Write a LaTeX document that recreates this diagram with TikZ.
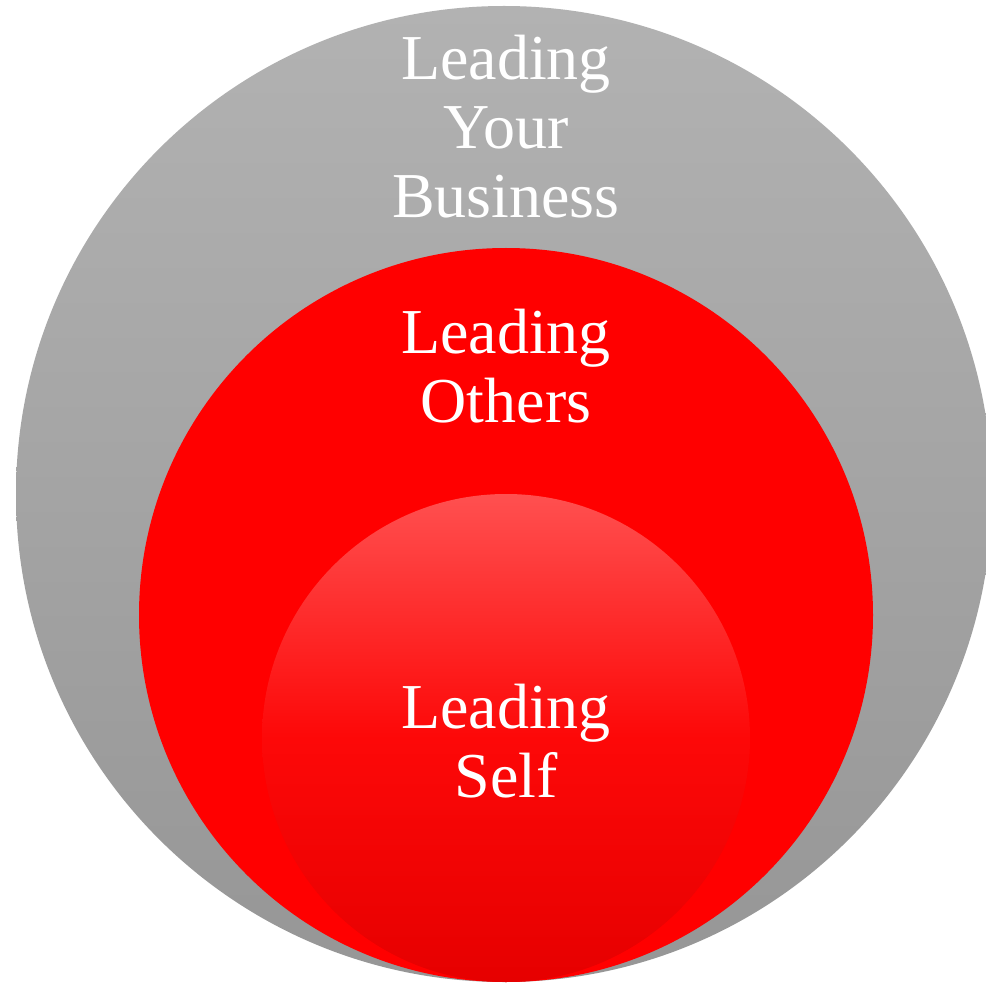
\documentclass[tikz,border=0pt]{standalone}
\usepackage{fontspec}
\setmainfont{Liberation Serif}
\begin{document}
\begin{tikzpicture}[x=1pt,y=-1pt,
  lbl/.style={anchor=base,text=white,inner sep=0pt,font=\fontsize{64}{69}\selectfont}]
\useasboundingbox (0,0) rectangle (986,984);
\fill[white] (0,0) rectangle (986,984);
\shade[top color={rgb,255:red,178;green,178;blue,178},bottom color={rgb,255:red,150;green,150;blue,150}] (504,494) circle (488);
\fill[red] (506,615) circle (367);
\shade[top color={rgb,255:red,255;green,80;blue,80},bottom color={rgb,255:red,230;green,0;blue,0},middle color={rgb,255:red,253;green,8;blue,8}] (506,738) circle (244);
\node[lbl] (b1) at (506,80) {Leading};
\node[lbl] (b2) at (506,149) {Your};
\node[lbl] (b3) at (506,218) {Business};
\node[lbl] (o1) at (506,354) {Leading};
\node[lbl] (o2) at (506,422) {Others};
\node[lbl] (s1) at (506,728) {Leading};
\node[lbl] (s2) at (506,797) {Self};
\end{tikzpicture}
\end{document}
